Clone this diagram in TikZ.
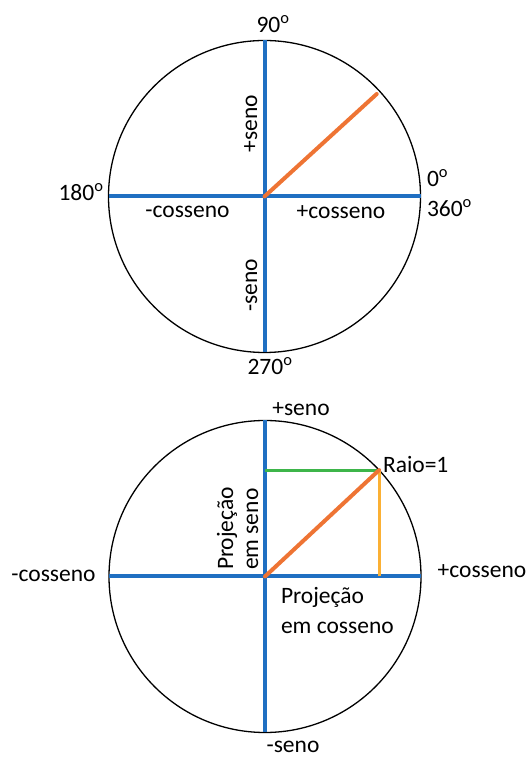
\documentclass[tikz,border=0pt]{standalone}
\usepackage{fontspec}
\setmainfont{Carlito}
\usetikzlibrary{calc}
\definecolor{axisblue}{HTML}{1F6FC2}
\definecolor{radorange}{HTML}{EE7434}
\definecolor{projgreen}{HTML}{3DB54A}
\definecolor{projyellow}{HTML}{FBB034}
\begin{document}
\begin{tikzpicture}[x=1pt,y=1pt,
  lbl/.style={inner sep=0pt, outer sep=0pt, font=\fontsize{23.5}{28}\selectfont},
  axis/.style={draw=axisblue, line width=4pt},
  ring/.style={draw=black, line width=1.3pt},
  radius line/.style={draw=radorange, line width=4pt, line cap=round},
  greenproj/.style={draw=projgreen, line width=3pt},
  yellowproj/.style={draw=projyellow, line width=3pt}]
\useasboundingbox (0,0) rectangle (530,757);
% ---------- top circle ----------
\coordinate (A) at (264.5,560.5);
\draw[ring] (A) circle[radius=156];
\coordinate (AN) at ($(A)+(0,156)$);
\coordinate (AS) at ($(A)+(0,-156)$);
\coordinate (AW) at ($(A)+(-156,0)$);
\coordinate (AE) at ($(A)+(156,0)$);
\coordinate (AR) at ($(A)+(42.4:152)$);
\draw[axis] (AW) -- (AE);
\draw[axis] (AN) -- (AS);
\draw[radius line] (A) -- (AR);
\node[lbl, anchor=base] (t90) at (273,724) {90\textsuperscript{o}};
\node[lbl, anchor=base, rotate=90] (tps) at (257,633.5) {+seno};
\node[lbl, anchor=base] (t180) at (81,556) {180\textsuperscript{o}};
\node[lbl, anchor=base west] (t0) at (427,570) {0\textsuperscript{o}};
\node[lbl, anchor=base west] (t360) at (427,540) {360\textsuperscript{o}};
\node[lbl, anchor=base] (tmc) at (187.5,539) {-cosseno};
\node[lbl, anchor=base] (tpc) at (341,538) {+cosseno};
\node[lbl, anchor=base, rotate=90] (tms) at (257,471.5) {-seno};
\node[lbl, anchor=base] (t270) at (270,382) {270\textsuperscript{o}};
% ---------- bottom circle ----------
\coordinate (B) at (265,180.5);
\draw[ring] (B) circle[radius=156];
\coordinate (BN) at ($(B)+(0,156)$);
\coordinate (BS) at ($(B)+(0,-156)$);
\coordinate (BW) at ($(B)+(-156,0)$);
\coordinate (BE) at ($(B)+(156,0)$);
\coordinate (P) at ($(B)+(43:156)$);
\coordinate (Py) at (B |- P);
\coordinate (Px) at (P |- B);
\draw[axis] (BW) -- (BE);
\draw[axis] (BN) -- (BS);
\draw[greenproj] (Py) -- (P);
\draw[yellowproj] (P) -- (Px);
\draw[radius line] (B) -- (P);
\node[lbl, anchor=base] (bps) at (301,341) {+seno};
\node[lbl, anchor=base west] (braio) at (383,284) {Raio=1};
\node[lbl, anchor=base west, rotate=90] (bproj1) at (233,187) {Projeção};
\node[lbl, anchor=base west, rotate=90] (bproj2) at (258,187) {em seno};
\node[lbl, anchor=base] (bmc) at (53.5,175) {-cosseno};
\node[lbl, anchor=base] (bpc) at (482,179) {+cosseno};
\node[lbl, anchor=base west] (bproj3) at (281,153) {Projeção};
\node[lbl, anchor=base west] (bproj4) at (281,123) {em cosseno};
\node[lbl, anchor=base] (bms) at (293,5) {-seno};
\end{tikzpicture}
\end{document}
